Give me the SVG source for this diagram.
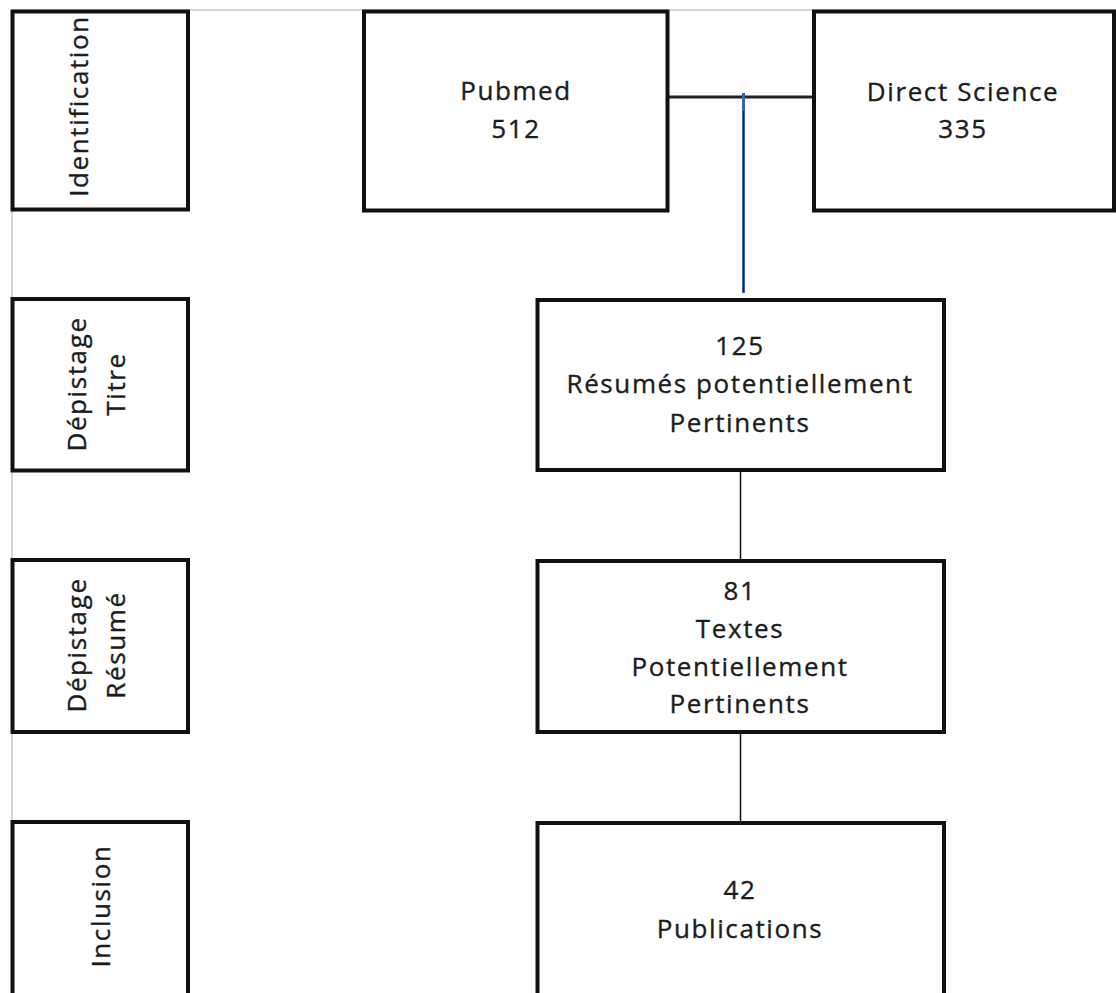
<svg xmlns="http://www.w3.org/2000/svg" width="1116" height="993" viewBox="0 0 1116 993">
  <style>
    .box { fill: #ffffff; stroke: #111111; stroke-width: 4; }
    .t { font-family: "Open Sans", "Noto Sans", "DejaVu Sans", sans-serif; font-size: 26px; fill: #1c1c1c; stroke: #1c1c1c; stroke-width: 0.35px; letter-spacing: 1.6px; text-anchor: middle; }
    .page { stroke: #c8c8c8; stroke-width: 1.5; fill: none; }
    .conn { stroke: #111111; stroke-width: 1.5; fill: none; }
  </style>
  <rect x="0" y="0" width="1116" height="993" fill="#ffffff"/>
  <g id="page-edge">
    <line class="page" x1="12" y1="10" x2="1116" y2="10"/>
    <line class="page" x1="12" y1="10" x2="12" y2="993"/>
  </g>
  <g id="connectors">
    <line x1="668" y1="97" x2="813" y2="97" stroke="#222222" stroke-width="3"/>
    <line x1="743.5" y1="93" x2="743.5" y2="293" stroke="#3565b0" stroke-width="3"/>
    <line x1="743.5" y1="111" x2="743.5" y2="292" stroke="#14213f" stroke-width="1"/>
    <line class="conn" x1="740.5" y1="470" x2="740.5" y2="560"/>
    <line class="conn" x1="740.5" y1="733" x2="740.5" y2="824"/>
  </g>
  <g id="label-identification">
    <rect class="box" x="12.5" y="11.5" width="175.5" height="198"/>
    <text class="t" transform="translate(88,106) rotate(-90)">Identification</text>
  </g>
  <g id="label-depistage-titre">
    <rect class="box" x="12.5" y="299" width="175.5" height="171.5"/>
    <text class="t" transform="translate(86,384) rotate(-90)">Dépistage</text>
    <text class="t" transform="translate(125,384) rotate(-90)">Titre</text>
  </g>
  <g id="label-depistage-resume">
    <rect class="box" x="12.5" y="560" width="175.5" height="172"/>
    <text class="t" transform="translate(86,645) rotate(-90)">Dépistage</text>
    <text class="t" transform="translate(125,645) rotate(-90)">Résumé</text>
  </g>
  <g id="label-inclusion">
    <rect class="box" x="12.5" y="822" width="175.5" height="190"/>
    <text class="t" transform="translate(110,906) rotate(-90)">Inclusion</text>
  </g>
  <g id="node-pubmed">
    <rect class="box" x="364" y="11.5" width="303.5" height="199"/>
    <text class="t" x="516" y="100">Pubmed</text>
    <text class="t" x="516" y="138">512</text>
  </g>
  <g id="node-direct-science">
    <rect class="box" x="814" y="11.5" width="300" height="199"/>
    <text class="t" x="963" y="101">Direct Science</text>
    <text class="t" x="963" y="138">335</text>
  </g>
  <g id="node-resumes">
    <rect class="box" x="537.5" y="300" width="406.5" height="170"/>
    <text class="t" x="740" y="355">125</text>
    <text class="t" x="740" y="393">Résumés potentiellement</text>
    <text class="t" x="740" y="432">Pertinents</text>
  </g>
  <g id="node-textes">
    <rect class="box" x="537.5" y="561" width="406.5" height="171"/>
    <text class="t" x="740" y="600">81</text>
    <text class="t" x="740" y="638">Textes</text>
    <text class="t" x="740" y="676">Potentiellement</text>
    <text class="t" x="740" y="713">Pertinents</text>
  </g>
  <g id="node-publications">
    <rect class="box" x="537.5" y="823" width="406.5" height="190"/>
    <text class="t" x="740" y="899">42</text>
    <text class="t" x="740" y="938">Publications</text>
  </g>
</svg>
